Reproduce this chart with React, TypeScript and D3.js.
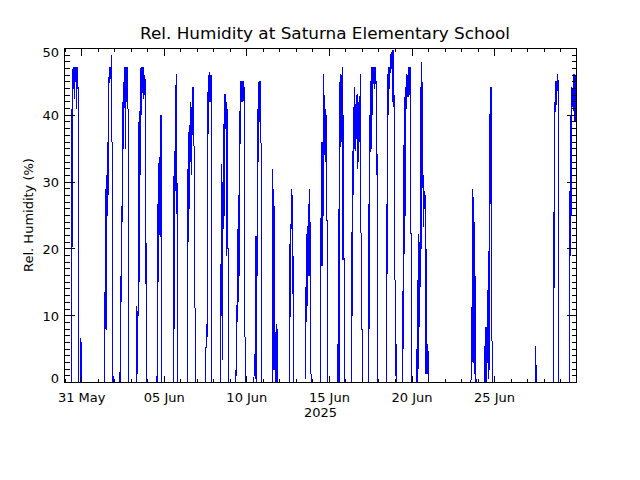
import React from "react";
import * as d3 from "d3";

// Time axis: hourly offsets from the first plotted instant
const SERIES_START = Date.UTC(2025, 4, 29, 23, 0);
const SERIES_END = Date.UTC(2025, 5, 29, 23, 0);

const TITLE = "Rel. Humidity at Saturna Elementary School";
const Y_TITLE = "Rel. Humidity (%)";
const YEAR_LABEL = "2025";

const yMajorTicks = [0, 10, 20, 30, 40, 50];
const xLabelDays = ["2025-05-31", "2025-06-05", "2025-06-10", "2025-06-15", "2025-06-20", "2025-06-25"];

// [hours since series start, relative humidity %]
const readings: [number, number][] = [
  [9.7,0],[10.2,41],[10.7,12.5],[11.7,47],[12.1,42],[12.6,47],[13.1,44],[13.6,47.2],[14.1,45],[14.6,47.2],[15.0,42.5],[15.5,47.2],[16.0,45],[16.5,47.2],[17.0,44.5],[17.5,47.2],[18.0,41],[18.4,47.2],[18.9,44],[19.4,47],[19.9,41],[20.4,44.2],[20.9,0],[23.3,0],[23.8,6.6],[24.8,3.8],[25.2,0],
  [58.2,0],[58.7,13.5],[59.2,8],[60.2,29],[60.7,7.8],[61.6,31],[62.1,25],[63.1,36],[63.6,28],[64.1,45.7],[64.6,44.5],[65.0,46],[65.5,47.2],[66.0,45],[66.5,47.2],[67.0,45.5],[67.5,47.2],[68.0,46],[68.4,47.2],[68.9,49],[69.4,1.3],[69.9,0],[70.4,1.3],[70.9,0],
  [80.1,0],[80.6,1.5],[81.1,0],[81.6,16],[82.0,11],[82.5,20.7],[83.0,12],[83.5,24],[84.0,38],[84.5,24],[85.0,42],[85.4,35],[85.9,45],[86.4,40],[86.9,47],[87.4,44],[87.9,47.2],[88.4,40],[88.8,35],[89.3,47.2],[89.8,42],[90.3,47.2],[90.8,44.5],[91.3,47.2],[91.7,42],[92.2,46],[92.7,18.8],[93.2,18.8],[93.7,0],
  [104.4,0],[104.9,11.5],[105.3,4],[105.8,8],[106.3,1.3],[106.8,8],[107.3,39],[107.8,10],[108.2,30],[108.7,15],[109.2,40.7],[109.7,30],[110.2,44],[110.7,36],[111.2,47.2],[111.6,40],[112.1,46],[112.6,43],[113.1,47.2],[113.6,44],[114.1,46],[114.6,42.5],[115.0,47.2],[115.5,43.5],[116.0,46],[116.5,43],[117.0,45.5],[117.5,23],[118.0,14.8],[118.4,23],[118.9,0],
  [133.5,0],[134.0,1],[134.5,0],[135.0,26.7],[135.4,8.3],[136.0,25],[136.4,15],[137.4,33.7],[137.9,25],[138.3,30],[138.8,21.8],[139.3,28],[139.8,40],[140.3,24],[140.8,40],[141.2,21.8],[141.7,0],
  [158.7,0],[159.2,34],[159.7,8],[160.2,34.7],[160.7,28.7],[161.2,34],[161.6,29],[162.1,46.2],[162.6,25.2],[163.1,46.2],[163.6,25.2],[164.0,0],
  [178.2,0],[178.7,32],[179.2,21],[179.6,36],[180.1,21],[180.6,37.5],[181.1,26],[181.6,37],[182.1,31],[182.5,41],[183.0,33],[183.5,42],[184.0,31],[184.5,41],[185.0,36],[185.5,44.2],[185.9,37],[186.4,43.5],[186.9,36],[187.4,44.2],[187.9,36],[188.4,35],[189.3,35],[189.8,0],
  [205.4,0],[205.8,8.8],[206.3,6.8],[206.8,8.8],[207.3,6.8],[207.8,43.5],[208.3,31],[208.8,43.5],[209.2,42],[209.7,46],[210.2,42],[210.7,46],[211.2,46.5],[211.7,43],[212.2,46],[212.6,42],[213.1,46],[213.6,0],
  [226.7,0],[227.2,17.8],[227.7,10],[228.7,32.7],[229.1,3.3],[229.6,30],[230.1,15],[230.6,38.7],[231.1,23],[231.6,36],[232.1,25],[232.5,43.2],[233.0,38],[233.5,42.5],[234.0,38],[234.5,43.2],[235.0,37.7],[235.5,42],[235.9,19],[236.4,41],[236.9,20],[237.4,21],[237.9,19],[238.4,20],[238.9,0],
  [249.0,0],[249.5,4],[250.0,1],[250.5,4],[251.0,23],[251.5,9],[251.9,18],[252.4,12],[252.9,28],[253.4,14],[253.9,27],[254.4,16],[254.9,40.7],[255.4,35.7],[255.8,45.2],[256.3,42.2],[256.8,45.2],[257.3,42],[257.8,45.2],[258.3,42.5],[258.8,45.2],[259.2,42],[259.7,45.2],[260.2,42.2],[260.7,45.2],[261.2,42],[261.7,9.7],[262.2,8.5],[262.7,0],
  [275.3,0],[275.7,4],[276.2,1],[276.7,4.3],[277.2,0.5],[277.7,4],[278.2,22],[278.7,0],[279.1,22],[279.6,5],[280.1,41],[280.6,31.7],[281.1,38],[281.6,33],[282.1,45],[282.5,38],[283.0,44],[283.5,39],[284.0,45.2],[284.5,41],[285.0,45.2],[285.5,41],[285.9,0],
  [302.4,0],[302.9,32],[303.4,1.8],[304.4,29],[304.9,1.8],[305.4,25],[305.8,2],[306.8,7.5],[307.3,0],[308.3,8.8],[308.8,0],[309.2,8],[309.7,0],
  [327.2,0],[327.7,20.8],[328.2,9.8],[328.7,19],[329.1,23],[329.6,29],[330.1,23],[330.6,28],[331.1,20],[331.6,13.3],[332.1,19],[332.5,16],[333.0,0],
  [349.5,0],[350.0,14.3],[350.5,1.3],[350.9,14.3],[351.4,9],[351.9,22.3],[352.4,11],[352.9,22.5],[353.4,13],[353.9,24],[354.3,16],[354.8,26.7],[355.3,16.5],[355.8,29],[356.3,16],[356.8,24],[357.2,1.3],[358.2,1.3],[358.7,0],
  [372.3,0],[372.8,27],[373.3,17.5],[374.2,36],[374.7,17.5],[375.2,35],[375.7,25],[376.2,46.2],[376.7,33.7],[377.1,43],[377.6,34],[378.1,41.2],[378.6,34],[379.1,41],[379.6,33],[380.1,40],[380.5,24.3],[381.5,24.3],[382.0,0],
  [396.6,0],[397.1,5.8],[397.5,0],[398.5,26],[399.0,0],[399.5,17],[400.0,26],[400.4,46.2],[400.9,35.2],[401.4,45],[401.9,36],[402.4,46],[402.9,36],[403.4,45],[403.8,18.3],[404.3,47.2],[404.8,18.3],[405.3,40],[405.8,20],[406.3,18.3],[406.8,0],
  [417.4,0],[417.9,27.5],[418.4,10],[418.9,34.7],[419.4,28],[419.9,34],[420.3,28.5],[420.8,44.2],[421.3,35],[421.8,43],[422.3,34.7],[422.8,41.2],[423.3,36],[423.7,43],[424.2,36.5],[424.7,41.2],[425.2,36],[425.7,43.2],[426.2,32],[426.7,42],[427.1,33],[427.6,40],[428.1,37.7],[428.6,41],[429.1,36],[429.6,46.2],[430.1,25.2],[431.0,22],[431.5,16.8],[432.0,22],[432.5,0],
  [441.7,0],[442.2,26.7],[442.7,8],[443.2,40],[443.7,15],[444.1,45.2],[444.6,35],[445.1,44],[445.6,35],[446.1,47.2],[446.6,37.7],[447.0,47.2],[447.5,40],[448.0,47.2],[448.5,44.7],[449.0,47.2],[449.5,44.7],[450.0,47.2],[450.4,44],[450.9,47.2],[451.4,45],[451.9,47.2],[452.4,44.7],[452.9,45.2],[453.4,31],[453.8,40],[454.3,31],[454.8,0],
  [467.4,0],[467.9,26.7],[468.4,5],[468.9,27],[469.4,46.2],[469.9,39.2],[470.3,45],[470.8,40],[471.3,47.2],[471.8,44],[472.3,47.2],[472.8,44],[473.3,49.2],[473.7,47.2],[474.2,49],[474.7,47.2],[475.2,49.5],[475.7,47],[476.2,49.7],[476.7,42],[477.1,49],[477.6,45],[478.1,49.7],[478.6,41.2],[479.1,43],[479.6,41.2],[480.1,20],[480.6,5.8],[481.0,5.8],[481.5,1],[482.0,5.8],[482.5,0],
  [491.7,0],[492.2,30.2],[492.7,5],[493.2,30],[493.6,42.7],[494.1,19.3],[494.6,40],[495.1,25],[495.6,44.2],[496.1,41.2],[496.6,44],[497.1,41],[497.5,46.2],[498.0,42.7],[498.5,46],[499.0,43],[499.5,46.2],[500.0,42.7],[500.4,47.2],[500.9,43],[501.4,47.2],[501.9,43.2],[502.4,47.2],[502.9,43],[503.4,22.3],[503.9,22.3],[504.3,0],
  [511.1,0],[511.6,5],[512.1,0],[512.6,5],[513.1,15.3],[513.5,0],[514.0,15.3],[514.5,2],[515.0,22.3],[515.5,8.3],[516.0,21],[516.5,10],[516.9,44.2],[517.4,14.3],[517.9,40],[518.4,20],[518.9,48],[519.4,23.3],[519.9,45],[520.3,30],[520.8,32.2],[521.3,23.3],[521.8,31],[522.3,25],[522.8,28.7],[523.3,26.7],[523.7,28.7],[524.2,27],[524.7,20],[525.2,1.3],[525.7,20],[526.2,1.3],[526.7,5.8],[527.1,1.3],[528.1,5.8],[528.6,1.3],[529.1,0],
  [590.7,0],[591.2,11.3],[591.7,4],[592.2,11.3],[592.7,25.7],[593.1,3],[593.6,29],[594.1,4],[594.6,25.7],[595.1,2],[595.6,24],[596.1,1.3],[596.5,16],[597.0,0],[597.5,16],[598.0,0],
  [610.1,0],[610.6,5.5],[611.1,0],[611.6,5.5],[612.1,8.3],[612.6,0],[613.0,8.3],[613.5,0],[615.0,13.8],[615.5,0.5],[616.0,13.8],[616.4,1],[616.9,20.8],[617.4,1.8],[617.9,40.2],[618.4,26.7],[618.9,44.2],[619.4,26.7],[619.9,44.2],[620.3,40],[620.8,44.2],[621.3,0],
  [684.4,0],[684.9,5.4],[685.4,0],
  [710.1,0],[710.6,25.5],[711.1,3],[711.6,25.5],[712.1,42],[712.6,40.5],[713.0,42],[713.5,40.5],[714.0,45.2],[714.5,41.5],[715.0,45.2],[715.5,42],[716.0,46.2],[716.4,44],[716.9,46.2],[717.4,44.2],[717.9,44.5],[718.4,0],
  [733.4,0],[733.9,28.7],[734.4,19],[734.9,28],[735.4,40],[735.9,19],[736.3,40],[736.8,25],[737.3,44.2],[737.8,41.7],[738.3,44],[738.8,41.2],[739.3,46.2],[739.8,40.7],[740.2,46.2],[740.7,41],[741.2,46.2],[741.7,39],[742.2,46],[742.7,39],[743.2,41.2],[743.7,40],[744.1,41],
];

const FONT = "'DejaVu Sans', sans-serif";

export default function App() {
  const W = 640, H = 480;
  const L = 64.5, R = 576.5, T = 48.5, B = 382.5;
  const x = d3.scaleUtc().domain([new Date(SERIES_START), new Date(SERIES_END)]).range([L, R]);
  const y = d3.scaleLinear().domain([0, 50]).range([B, T]);
  const tx = (h: number) => new Date(SERIES_START + h * 3600e3);
  const line = d3.line<[number, number]>().x(d => x(tx(d[0]))).y(d => y(d[1]));
  const px = (v: number) => Math.round(v - 0.5) + 0.5;

  const days = d3.utcDay.range(new Date(SERIES_START), new Date(SERIES_END + 1));
  const majorSet = new Set(xLabelDays);
  const fmtKey = d3.utcFormat("%Y-%m-%d");
  const fmtLabel = d3.utcFormat("%d %b");
  const yMinor = d3.range(0, 51, 1);

  return (
    <svg width={W} height={H} style={{ position: "absolute", left: 0, top: 0, background: "#fff" }}>
      <defs>
        <clipPath id="plotClip">
          <rect x={L} y={T - 1} width={R - L} height={B - T + 1} />
        </clipPath>
      </defs>
      <rect x={0} y={0} width={W} height={H} fill="#fff" />
      <path d={line(readings) || ""} fill="none" stroke="#0000ff" strokeWidth={1}
        shapeRendering="crispEdges" clipPath="url(#plotClip)" />
      <g stroke="#000" strokeWidth={1} shapeRendering="crispEdges" fill="none">
        <rect x={L} y={T} width={R - L} height={B - T} />
        {yMinor.map(v => {
          const yy = px(y(v));
          const len = v % 10 === 0 ? 10 : 5;
          return (
            <g key={"y" + v}>
              <line x1={L} x2={L + len} y1={yy} y2={yy} />
              <line x1={R} x2={R - len} y1={yy} y2={yy} />
            </g>
          );
        })}
        {days.map(d => {
          const xx = px(x(d));
          const len = majorSet.has(fmtKey(d)) ? 7 : 3.5;
          return (
            <g key={"x" + d.getTime()}>
              <line x1={xx} x2={xx} y1={B} y2={B - len} />
              <line x1={xx} x2={xx} y1={T} y2={T + len} />
            </g>
          );
        })}
      </g>
      <g fontFamily={FONT} fontSize={13} fill="#000">
        {yMajorTicks.map(v => {
          const base = v === 0 ? 383 : v === 50 ? 57 : y(v) + 5;
          return <text key={"yl" + v} x={59} y={base} textAnchor="end">{v}</text>;
        })}
        {xLabelDays.map(s => {
          const d = new Date(s + "T00:00:00Z");
          return <text key={"xl" + s} x={x(d)} y={402} textAnchor="middle">{fmtLabel(d)}</text>;
        })}
        <text x={320.5} y={417} textAnchor="middle">{YEAR_LABEL}</text>
        <text transform="translate(33,215) rotate(-90)" textAnchor="middle">{Y_TITLE}</text>
      </g>
      <text x={325} y={39} fontFamily={FONT} fontSize={16} textAnchor="middle"
        textLength={370} lengthAdjust="spacingAndGlyphs">{TITLE}</text>
    </svg>
  );
}
